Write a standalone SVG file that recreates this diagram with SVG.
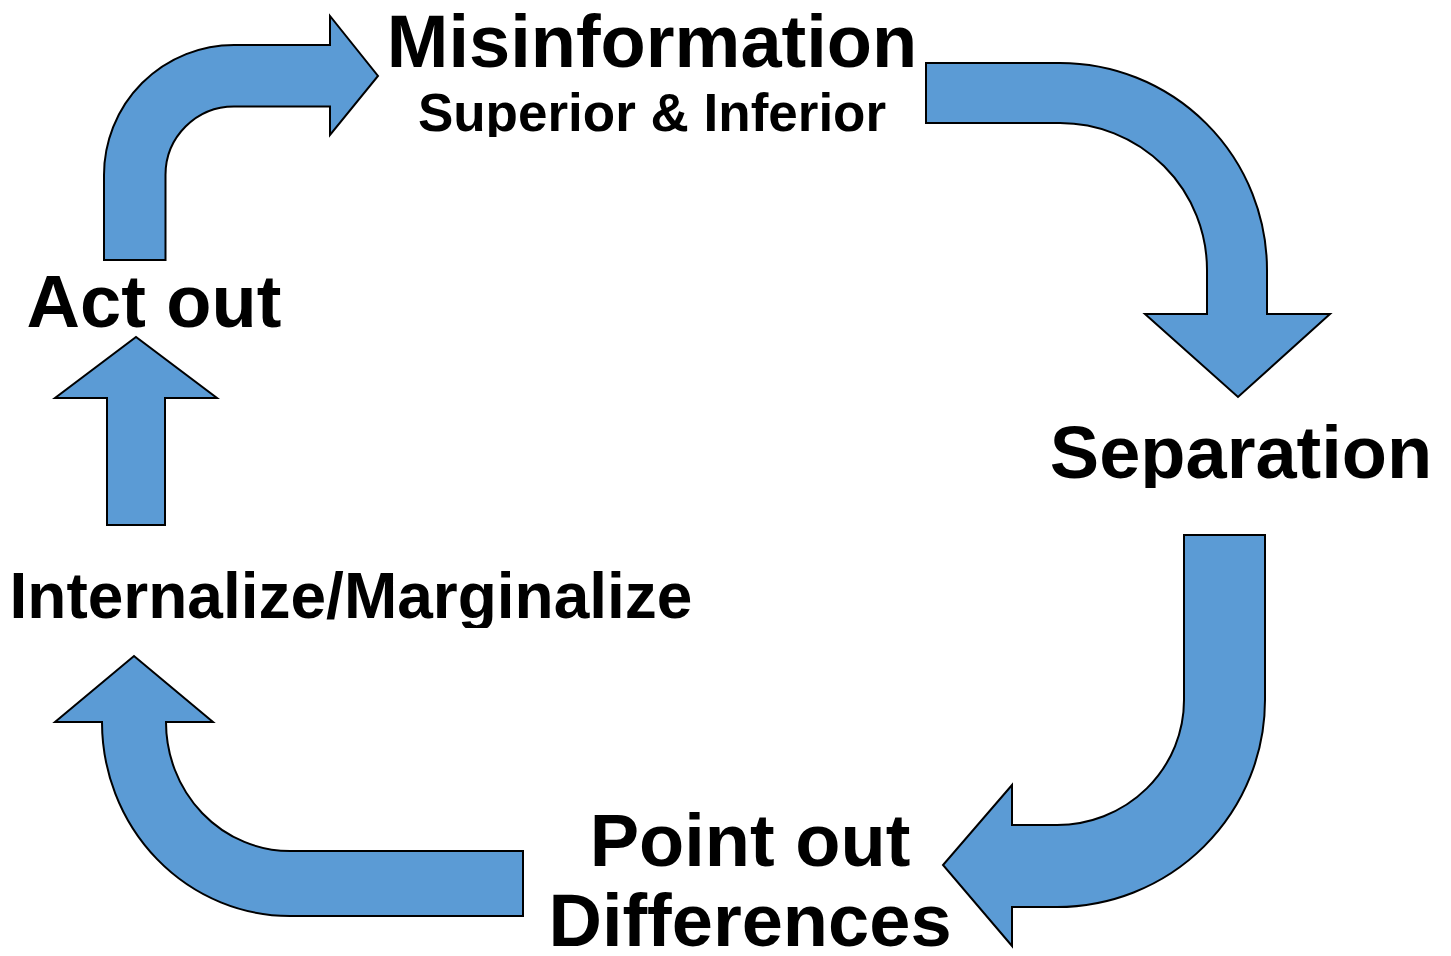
<svg xmlns="http://www.w3.org/2000/svg" width="1451" height="956" viewBox="0 0 1451 956">
<defs>
<style>
.arrow{fill:#5B9BD5;stroke:#000;stroke-width:2;stroke-linejoin:miter}
.lbl{font-family:"Liberation Sans",Arial,sans-serif;font-weight:bold;fill:#000;text-anchor:middle}
</style>
<clipPath id="clipSup"><rect x="380" y="80" width="560" height="57"/></clipPath>
<clipPath id="clipSep"><rect x="1000" y="400" width="451" height="88"/></clipPath>
<clipPath id="clipInt"><rect x="0" y="550" width="720" height="78"/></clipPath>
</defs>
<rect width="1451" height="956" fill="#fff"/>
<g id="connectors">
<path id="arrow-act-to-mis" class="arrow" d="M104 260 L104 175 A130 130 0 0 1 234 45 L330 45 L330 16 L378 76 L330 135 L330 106.5 L234 106.5 A68.5 68.5 0 0 0 165.5 175 L165.5 260 Z"/>
<path id="arrow-mis-to-sep" class="arrow" d="M926 63 L1060 63 A207 207 0 0 1 1267 270 L1267 314 L1330 314 L1238 397 L1145 314 L1207 314 L1207 270 A147 147 0 0 0 1060 123 L926 123 Z"/>
<path id="arrow-sep-to-point" class="arrow" d="M1184 535 L1265 535 L1265 700 A208 207 0 0 1 1057 907 L1012 907 L1012 946 L943 865 L1012 785 L1012 825 L1057 825 A127 125 0 0 0 1184 700 Z"/>
<path id="arrow-point-to-int" class="arrow" d="M523 851 L523 916 L290 916 A188 194 0 0 1 102 722 L55 722 L134 656 L213 722 L166 722 A124 129 0 0 0 290 851 Z"/>
<path id="arrow-int-to-act" class="arrow" d="M107 525 L107 398 L55 398 L136 337 L217 398 L165 398 L165 525 Z"/>
</g>
<g id="node-misinformation">
<text class="lbl" x="652" y="67" font-size="74">Misinformation</text>
<text class="lbl" x="652" y="131" font-size="53" clip-path="url(#clipSup)">Superior &amp; Inferior</text>
</g>
<g id="node-separation">
<text class="lbl" x="1241" y="478" font-size="74" clip-path="url(#clipSep)">Separation</text>
</g>
<g id="node-point-out">
<text class="lbl" x="750" y="866" font-size="74">Point out</text>
<text class="lbl" x="750" y="946" font-size="74">Differences</text>
</g>
<g id="node-internalize">
<text class="lbl" x="351" y="618" font-size="64" clip-path="url(#clipInt)">Internalize/Marginalize</text>
</g>
<g id="node-act-out">
<text class="lbl" x="154" y="327" font-size="74">Act out</text>
</g>
</svg>
